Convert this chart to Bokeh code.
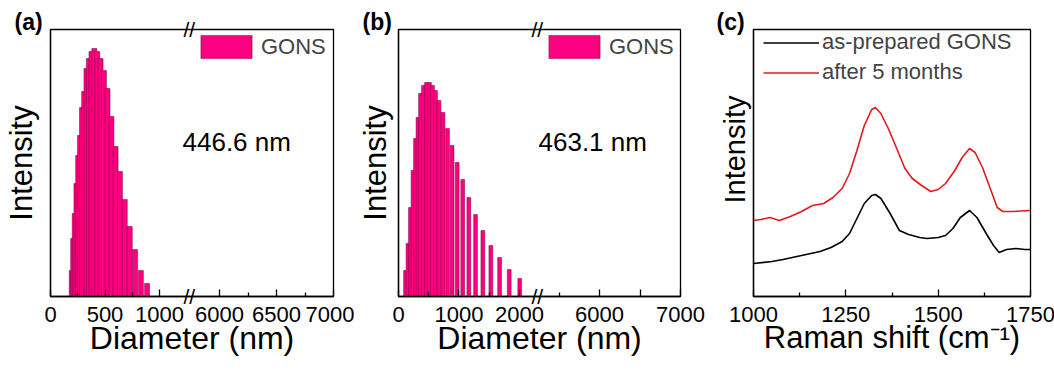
import math
from bokeh.plotting import figure
from bokeh.models import FixedTicker, Label, Range1d, LinearAxis, Title
from bokeh.layouts import row
from bokeh.embed import file_html
from bokeh.resources import INLINE

FONT = "Liberation Sans"
PINK = "#FF0080"
BAR_EDGE = "#6a0035"
RED = "#E3191C"

# ---------------- data ----------------
# (a) DLS size distribution, fresh GONS
a_diameter = [195, 208, 222, 238, 254, 271, 289, 309, 330, 352, 376, 402, 429, 459,
              490, 523, 559, 597, 637, 681, 727, 776, 829, 886]
a_intensity = [26, 58, 83, 113, 141, 161, 189, 205, 228, 238, 245, 248, 245, 238,
               226, 208, 180, 150, 125, 97, 70, 47, 26, 13]
a_note = "446.6 nm"

# (b) DLS size distribution, after storage
b_diameter = [116, 157, 198, 240, 281, 322, 364, 413, 463, 512, 562, 612, 669, 736,
              810, 886, 970, 1062, 1163, 1274, 1395, 1527, 1672, 1831, 2005]
b_intensity = [26, 53, 89, 126, 158, 179, 203, 211, 214, 214, 211, 206, 196, 184,
               168, 151, 134, 117, 99, 82, 66, 51, 39, 27, 18]
b_note = "463.1 nm"

# (c) Raman spectra
black_shift = [1000, 1050, 1080, 1130, 1180, 1210, 1240, 1260, 1280, 1300, 1320, 1330,
               1345, 1370, 1395, 1420, 1450, 1470, 1500, 1520, 1540, 1560, 1585, 1605,
               1630, 1650, 1665, 1685, 1710, 1735, 1750]
black_int = [33, 35, 37, 41, 45, 49, 55, 63, 78, 93, 101, 102, 98, 83, 66, 62, 59, 58,
             59, 61, 68, 79, 86, 79, 63, 51, 44, 47, 48, 47, 47]
red_shift = [1000, 1020, 1045, 1070, 1100, 1130, 1160, 1190, 1215, 1240, 1260, 1280,
             1300, 1320, 1330, 1345, 1365, 1390, 1410, 1430, 1455, 1480, 1500, 1520,
             1545, 1565, 1585, 1600, 1620, 1640, 1660, 1675, 1700, 1750]
red_int = [76, 77, 79, 76, 80, 85, 91, 93, 99, 108, 123, 146, 171, 187, 189, 183, 168,
           146, 128, 118, 111, 105, 107, 113, 126, 139, 148, 144, 129, 109, 89, 85, 85, 86]

a_major = [0, 500, 1000, 6000, 6500, 7000]
a_major_labels = ["0", "500", "1000", "6000", "6500", "7000"]
a_minor = [250, 750, 6250, 6750]

b_major = [0, 1000, 2000, 6000, 6500, 7000]
b_major_labels = ["0", "1000", "2000", "6000", "", "7000"]
b_minor = [500, 1500, 5500]

c_major = [1000, 1250, 1500, 1750]
c_minor = [1125, 1375, 1625]

# ---------------- helpers ----------------
FRAME_H = 267
Y_MAX = 267
TOP = 29
BOTTOM = 66


def make_disp(cut_lo, cut_hi, factor):
    def disp(v):
        if v <= cut_lo:
            return v
        return int(round(cut_lo + (v - cut_hi) * factor))
    return disp


def style_common(p, ylabel_standoff):
    p.grid.visible = False
    p.outline_line_color = "black"
    p.outline_line_width = 1.3
    p.background_fill_color = "white"
    p.border_fill_color = "white"
    for ax in p.xaxis:
        ax.axis_line_width = 1.3
        ax.major_tick_line_width = 1.3
        ax.minor_tick_line_width = 1.3
        ax.major_tick_in = 7
        ax.major_tick_out = 0
        ax.minor_tick_in = 4
        ax.minor_tick_out = 0
        ax.major_label_text_font = FONT
        ax.major_label_text_font_size = "22px"
        ax.major_label_text_color = "black"
        ax.major_label_standoff = 10
        ax.axis_label_text_font = FONT
        ax.axis_label_text_font_size = "32px"
        ax.axis_label_text_font_style = "normal"
        ax.axis_label_text_color = "black"
        ax.axis_label_standoff = -5
    for ax in p.yaxis:
        ax.ticker = FixedTicker(ticks=[])
        ax.axis_line_width = 1.3
        ax.major_tick_line_color = None
        ax.minor_tick_line_color = None
        ax.major_label_text_font_size = "0px"
        ax.axis_label_text_font = FONT
        ax.axis_label_text_font_size = "31px"
        ax.axis_label_text_font_style = "normal"
        ax.axis_label_text_color = "black"
        ax.axis_label_standoff = ylabel_standoff


def px_to_x(p, frame_w, dx):
    return p.x_range.start + dx * (p.x_range.end - p.x_range.start) / frame_w


def panel_label(p, text, dx):
    p.add_layout(Title(text=text, align="left", offset=dx, text_font=FONT,
                       text_font_size="23px", text_font_style="bold",
                       text_color="black", standoff=-11), "above")


def break_marks(p, break_px, frame_w):
    # "//" marks drawn as labels of an unlined axis, so they straddle the frame edge
    ax = LinearAxis(ticker=FixedTicker(ticks=[0, Y_MAX]),
                    major_label_overrides={0: "//", Y_MAX: "//"},
                    axis_line_color=None, major_tick_line_color=None,
                    minor_tick_line_color=None, major_tick_out=0, major_tick_in=0,
                    major_label_standoff=int(round(-(frame_w - break_px) - 6)),
                    major_label_text_font=FONT, major_label_text_font_size="21px",
                    major_label_text_color="black")
    if "major_label_background_fill_color" in ax.properties():
        ax.major_label_background_fill_color = "white"
    p.add_layout(ax, "right")


def dls_panel(diam, inten, bar_w, disp, cut_lo, x_end, major, major_labels, minor,
              note, tag, frame_w, left, right, note_dx, ylab_standoff):
    xr = Range1d(0, disp(x_end))
    p = figure(frame_width=frame_w, frame_height=FRAME_H, x_range=xr,
               y_range=Range1d(0, Y_MAX), output_backend="svg", toolbar_location=None,
               min_border_left=left, min_border_right=right, min_border_top=TOP,
               min_border_bottom=BOTTOM, x_axis_label="Diameter (nm)",
               y_axis_label="Intensity")
    style_common(p, ylab_standoff)
    xs = [disp(d) for d in diam]
    p.vbar(x=xs, width=bar_w, top=inten, bottom=0, fill_color=PINK,
           line_color=BAR_EDGE, line_width=0.6, line_alpha=0.8, legend_label="GONS")
    ticks = [disp(t) for t in major]
    p.xaxis.ticker = FixedTicker(ticks=ticks, minor_ticks=[disp(t) for t in minor])
    p.xaxis.major_label_overrides = {t: lab for t, lab in zip(ticks, major_labels)}
    lg = p.legend[0]
    lg.location = (144, 235)
    lg.padding = 0
    lg.margin = 0
    lg.spacing = 0
    lg.glyph_width = 64
    lg.glyph_height = 29
    lg.label_height = 29
    lg.label_standoff = 3
    lg.label_text_font = FONT
    lg.label_text_font_size = "22px"
    lg.border_line_color = None
    lg.background_fill_alpha = 0
    p.add_layout(Label(x=px_to_x(p, frame_w, note_dx), y=155, text=note,
                       text_font=FONT, text_font_size="26px", text_color="black",
                       text_align="left", text_baseline="middle"))
    break_px = frame_w * cut_lo / (xr.end - xr.start)
    break_marks(p, break_px, frame_w)
    panel_label(p, tag, -36)
    return p


disp_a = make_disp(1275, 5737, 1.046)
pa = dls_panel(a_diameter, a_intensity, 46, disp_a, 1275, 7000, a_major, a_major_labels,
               a_minor, a_note, "(a)", 283, 48, 21, 132, 12)

disp_b = make_disp(2300, 5235, 1.339)
pb = dls_panel(b_diameter, b_intensity, 63, disp_b, 2300, 7000, b_major, b_major_labels,
               b_minor, b_note, "(b)", 282, 42, 27, 140, 6)

# ---------------- (c) Raman ----------------
pc = figure(frame_width=277, frame_height=FRAME_H, x_range=Range1d(1000, 1750),
            y_range=Range1d(0, Y_MAX), output_backend="svg", toolbar_location=None,
            min_border_left=46, min_border_right=27, min_border_top=TOP,
            min_border_bottom=BOTTOM, x_axis_label="Raman shift (cm\u207b\u00b9)")
style_common(pc, 0)
pc.xaxis.axis_label_text_font_size = "31px"
pc.line(black_shift, black_int, line_color="black", line_width=1.6,
        legend_label="as-prepared GONS")
pc.line(red_shift, red_int, line_color=RED, line_width=1.6, legend_label="after 5 months")
pc.xaxis.ticker = FixedTicker(ticks=c_major, minor_ticks=c_minor)
lgc = pc.legend[0]
lgc.location = (10, 211)
lgc.padding = 0
lgc.margin = 0
lgc.spacing = 4
lgc.glyph_width = 56
lgc.glyph_height = 25
lgc.label_height = 25
lgc.label_standoff = 3
lgc.label_text_font = FONT
lgc.label_text_font_size = "22px"
lgc.border_line_color = None
lgc.background_fill_alpha = 0
pc.add_layout(Title(text="Intensity", align="left", offset=93, text_font=FONT,
                    text_font_size="29px", text_font_style="normal",
                    vertical_align="top", text_color="black", standoff=2), "left")
panel_label(pc, "(c)", -37)

layout = row(pa, pb, pc, spacing=0)
open("out.html", "w").write(file_html(layout, INLINE))
